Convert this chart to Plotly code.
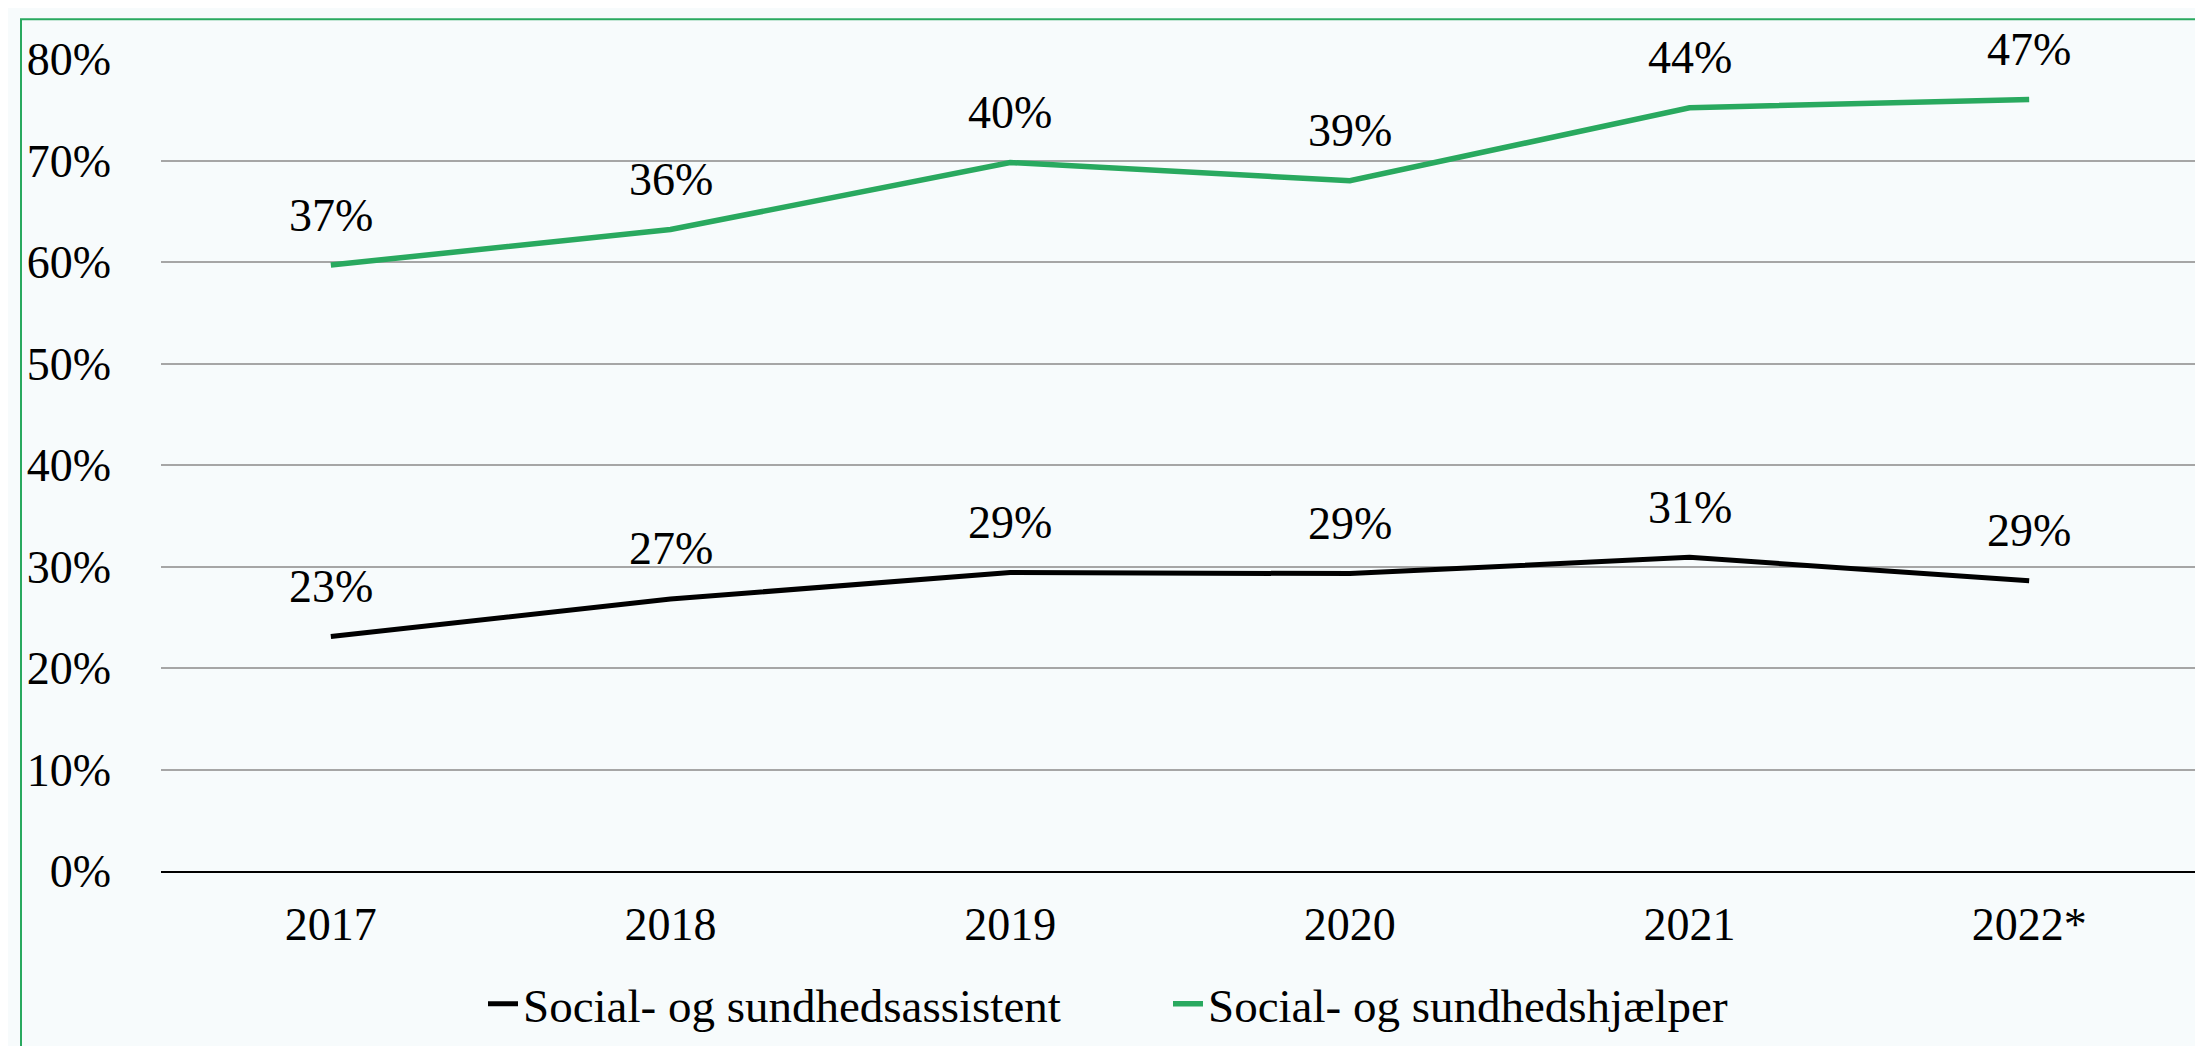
import plotly.graph_objects as go

years = ["2017", "2018", "2019", "2020", "2021", "2022*"]
assistent_values = [23.1, 26.8, 29.4, 29.3, 30.9, 28.6]
hjaelper_values = [59.7, 63.2, 69.8, 68.0, 75.2, 76.0]
assistent_labels = ["23%", "27%", "29%", "29%", "31%", "29%"]
hjaelper_labels = ["37%", "36%", "40%", "39%", "44%", "47%"]
y_ticks = [0, 10, 20, 30, 40, 50, 60, 70, 80]
y_tick_text = [f"{v}%" for v in y_ticks]

GREEN = "#29a95f"
FONT = "Liberation Serif"
FS = 46

W, H = 2203, 1046
L, R, T, B = 153, 12, 51, 178

fig = go.Figure()
fig.add_trace(go.Scatter(x=years, y=assistent_values, mode="lines",
                         name="Social- og sundhedsassistent",
                         line=dict(color="#000000", width=5)))
fig.add_trace(go.Scatter(x=years, y=hjaelper_values, mode="lines",
                         name="Social- og sundhedshjælper",
                         line=dict(color=GREEN, width=5.5)))

for vals, labs in ((assistent_values, assistent_labels), (hjaelper_values, hjaelper_labels)):
    for i, (v, t) in enumerate(zip(vals, labs)):
        fig.add_annotation(x=i, y=v, text=t, showarrow=False, yshift=50,
                           yanchor="middle", xanchor="center",
                           font=dict(family=FONT, size=FS, color="#000000"))

pw = W - L - R
ph = H - T - B
def px_x(p):
    return (p - L) / pw
def px_y(p):
    return (H - B - p) / ph

# outer green frame (left and top edges)
fig.add_shape(type="rect", xref="paper", yref="paper",
              x0=px_x(13), x1=px_x(W + 10), y0=px_y(H + 10), y1=px_y(11),
              line=dict(color=GREEN, width=2), fillcolor="rgba(0,0,0,0)", layer="below")

fig.update_layout(
    width=W, height=H,
    margin=dict(l=L, r=R, t=T, b=B),
    paper_bgcolor="#f7fbfc",
    plot_bgcolor="#f7fbfc",
    font=dict(family=FONT, size=FS, color="#000000"),
    showlegend=True,
    legend=dict(orientation="h", x=px_x(1160), xanchor="center", y=px_y(1002), yanchor="middle",
                font=dict(family=FONT, size=47, color="#000000"),
                bgcolor="rgba(0,0,0,0)", entrywidth=640, tracegroupgap=0),
    xaxis=dict(type="category", range=[-0.5, 5.5], showgrid=False,
               showline=True, linecolor="#000000", linewidth=1.5,
               ticks="", ticklabelstandoff=12,
               tickfont=dict(family=FONT, size=FS, color="#000000")),
    yaxis=dict(range=[0, 80], tickvals=y_ticks, ticktext=y_tick_text,
               showgrid=True, gridcolor="#a6a6a6", gridwidth=1.5,
               zeroline=False, showline=False, ticks="", ticklabelstandoff=49,
               tickfont=dict(family=FONT, size=FS, color="#000000")),
)

fig.write_html("out.html")
